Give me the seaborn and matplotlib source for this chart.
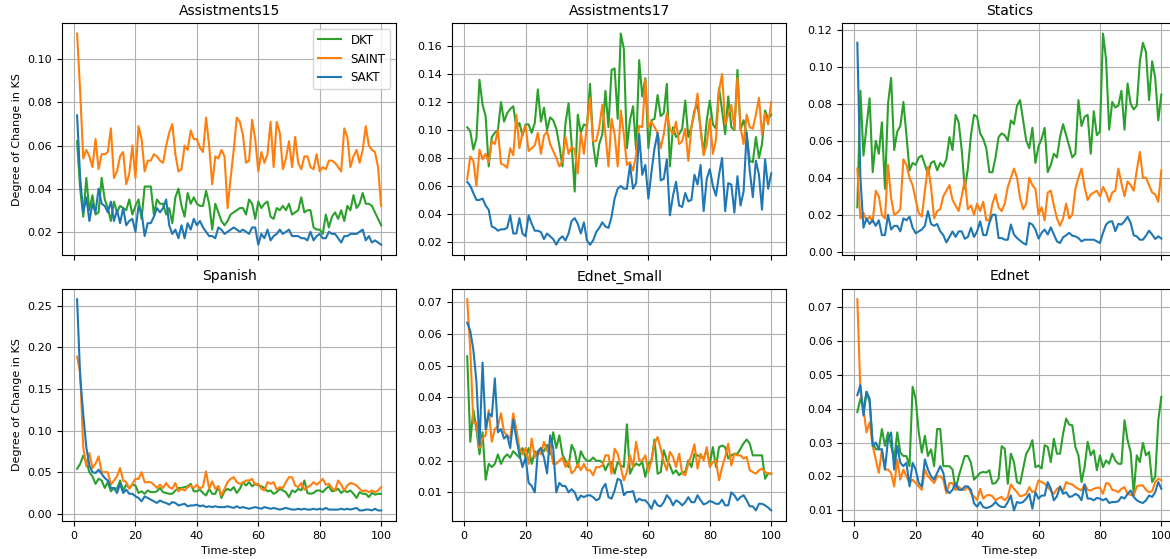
import numpy as np
import pandas as pd
import matplotlib
matplotlib.use("Agg")
import matplotlib.pyplot as plt
import seaborn as sns

steps = list(range(1, 101))
models = ["DKT", "SAINT", "SAKT"]
colors = {"DKT": "#2ca02c", "SAINT": "#ff7f0e", "SAKT": "#1f77b4"}
titles = ["Assistments15", "Assistments17", "Statics", "Spanish", "Ednet_Small", "Ednet"]

a15_dkt = [0.062, 0.040, 0.027, 0.045, 0.030, 0.037, 0.028, 0.029, 0.045, 0.035,
           0.031, 0.025, 0.034, 0.029, 0.032, 0.031, 0.030, 0.035, 0.028, 0.032,
           0.035, 0.026, 0.041, 0.041, 0.041, 0.028, 0.035, 0.033, 0.033, 0.028,
           0.031, 0.024, 0.036, 0.040, 0.032, 0.027, 0.038, 0.033, 0.036, 0.033,
           0.032, 0.032, 0.039, 0.033, 0.021, 0.033, 0.029, 0.025, 0.023, 0.025,
           0.028, 0.029, 0.030, 0.031, 0.031, 0.028, 0.035, 0.033, 0.026, 0.034,
           0.031, 0.033, 0.034, 0.027, 0.026, 0.031, 0.030, 0.032, 0.030, 0.033,
           0.028, 0.029, 0.030, 0.036, 0.029, 0.030, 0.030, 0.022, 0.021, 0.021,
           0.019, 0.028, 0.022, 0.027, 0.029, 0.026, 0.030, 0.025, 0.032, 0.030,
           0.037, 0.031, 0.033, 0.038, 0.033, 0.033, 0.032, 0.029, 0.026, 0.023]
a15_saint = [0.112, 0.085, 0.054, 0.058, 0.055, 0.050, 0.063, 0.049, 0.056, 0.056,
             0.057, 0.068, 0.045, 0.048, 0.055, 0.057, 0.042, 0.047, 0.060, 0.045,
             0.069, 0.063, 0.048, 0.053, 0.053, 0.056, 0.055, 0.053, 0.052, 0.060,
             0.066, 0.070, 0.056, 0.048, 0.049, 0.060, 0.058, 0.067, 0.063, 0.063,
             0.059, 0.057, 0.073, 0.060, 0.042, 0.055, 0.054, 0.058, 0.055, 0.031,
             0.045, 0.058, 0.073, 0.071, 0.065, 0.052, 0.053, 0.072, 0.063, 0.048,
             0.057, 0.052, 0.056, 0.071, 0.050, 0.071, 0.066, 0.049, 0.054, 0.062,
             0.050, 0.064, 0.052, 0.049, 0.055, 0.055, 0.050, 0.049, 0.056, 0.048,
             0.050, 0.049, 0.053, 0.053, 0.052, 0.050, 0.048, 0.068, 0.064, 0.050,
             0.055, 0.058, 0.052, 0.058, 0.069, 0.060, 0.058, 0.057, 0.050, 0.032]
a15_sakt = [0.074, 0.045, 0.029, 0.036, 0.025, 0.033, 0.029, 0.040, 0.033, 0.032,
            0.029, 0.034, 0.025, 0.030, 0.024, 0.031, 0.023, 0.025, 0.026, 0.020,
            0.032, 0.029, 0.018, 0.024, 0.024, 0.027, 0.031, 0.029, 0.031, 0.035,
            0.023, 0.019, 0.021, 0.017, 0.023, 0.017, 0.024, 0.021, 0.026, 0.023,
            0.025, 0.022, 0.020, 0.018, 0.018, 0.017, 0.022, 0.021, 0.019, 0.020,
            0.021, 0.022, 0.021, 0.020, 0.021, 0.020, 0.019, 0.022, 0.022, 0.014,
            0.019, 0.017, 0.021, 0.016, 0.018, 0.019, 0.021, 0.019, 0.020, 0.021,
            0.018, 0.018, 0.018, 0.017, 0.017, 0.016, 0.020, 0.016, 0.018, 0.019,
            0.017, 0.017, 0.020, 0.019, 0.019, 0.017, 0.015, 0.018, 0.018, 0.019,
            0.019, 0.019, 0.020, 0.021, 0.016, 0.018, 0.015, 0.016, 0.015, 0.014]

a17_dkt = [0.102, 0.099, 0.086, 0.094, 0.136, 0.118, 0.110, 0.074, 0.095, 0.098,
           0.100, 0.120, 0.106, 0.112, 0.115, 0.117, 0.102, 0.105, 0.096, 0.104,
           0.104, 0.098, 0.105, 0.129, 0.106, 0.116, 0.100, 0.109, 0.107, 0.101,
           0.089, 0.074, 0.105, 0.119, 0.090, 0.056, 0.111, 0.098, 0.104, 0.103,
           0.133, 0.090, 0.074, 0.090, 0.097, 0.128, 0.102, 0.143, 0.144, 0.108,
           0.169, 0.158, 0.087, 0.107, 0.117, 0.086, 0.150, 0.124, 0.137, 0.087,
           0.107, 0.108, 0.125, 0.110, 0.112, 0.133, 0.074, 0.102, 0.095, 0.097,
           0.101, 0.121, 0.095, 0.102, 0.114, 0.118, 0.101, 0.083, 0.107, 0.121,
           0.104, 0.101, 0.130, 0.114, 0.097, 0.124, 0.102, 0.100, 0.143, 0.100,
           0.107, 0.097, 0.078, 0.077, 0.095, 0.080, 0.090, 0.114, 0.108, 0.111]
a17_saint = [0.065, 0.081, 0.078, 0.060, 0.086, 0.079, 0.083, 0.077, 0.092, 0.090,
             0.100, 0.076, 0.075, 0.073, 0.087, 0.082, 0.111, 0.087, 0.098, 0.103,
             0.085, 0.087, 0.089, 0.098, 0.083, 0.096, 0.099, 0.090, 0.085, 0.080,
             0.074, 0.078, 0.095, 0.083, 0.088, 0.086, 0.069, 0.098, 0.083, 0.104,
             0.123, 0.092, 0.092, 0.102, 0.118, 0.097, 0.074, 0.108, 0.097, 0.074,
             0.114, 0.097, 0.075, 0.077, 0.071, 0.082, 0.103, 0.102, 0.136, 0.102,
             0.106, 0.102, 0.098, 0.087, 0.097, 0.112, 0.101, 0.097, 0.106, 0.090,
             0.092, 0.101, 0.078, 0.102, 0.112, 0.126, 0.100, 0.082, 0.090, 0.108,
             0.083, 0.093, 0.128, 0.140, 0.104, 0.111, 0.118, 0.101, 0.137, 0.102,
             0.090, 0.111, 0.102, 0.101, 0.111, 0.123, 0.097, 0.112, 0.104, 0.120]
a17_sakt = [0.063, 0.060, 0.055, 0.050, 0.050, 0.051, 0.046, 0.043, 0.031, 0.030,
            0.028, 0.029, 0.029, 0.030, 0.039, 0.026, 0.026, 0.037, 0.026, 0.024,
            0.039, 0.033, 0.028, 0.028, 0.027, 0.022, 0.026, 0.024, 0.022, 0.018,
            0.022, 0.024, 0.021, 0.026, 0.035, 0.037, 0.033, 0.026, 0.034, 0.021,
            0.018, 0.021, 0.027, 0.030, 0.034, 0.031, 0.030, 0.038, 0.051, 0.058,
            0.060, 0.058, 0.058, 0.075, 0.058, 0.062, 0.097, 0.068, 0.075, 0.051,
            0.070, 0.087, 0.098, 0.064, 0.065, 0.079, 0.039, 0.053, 0.063, 0.046,
            0.045, 0.055, 0.049, 0.050, 0.068, 0.061, 0.075, 0.042, 0.065, 0.072,
            0.060, 0.053, 0.068, 0.080, 0.042, 0.062, 0.061, 0.041, 0.067, 0.046,
            0.056, 0.098, 0.071, 0.052, 0.078, 0.068, 0.043, 0.079, 0.058, 0.069]

statics_dkt = [0.024, 0.087, 0.052, 0.068, 0.083, 0.043, 0.060, 0.053, 0.070, 0.034,
               0.080, 0.094, 0.055, 0.065, 0.068, 0.081, 0.063, 0.044, 0.048, 0.047,
               0.051, 0.052, 0.047, 0.042, 0.048, 0.049, 0.044, 0.048, 0.046, 0.050,
               0.062, 0.055, 0.074, 0.070, 0.055, 0.034, 0.045, 0.063, 0.074, 0.073,
               0.064, 0.061, 0.056, 0.043, 0.043, 0.051, 0.062, 0.064, 0.063, 0.060,
               0.071, 0.069, 0.079, 0.082, 0.071, 0.060, 0.056, 0.067, 0.048, 0.057,
               0.061, 0.067, 0.043, 0.047, 0.053, 0.051, 0.062, 0.069, 0.063, 0.057,
               0.051, 0.053, 0.082, 0.068, 0.073, 0.074, 0.053, 0.076, 0.063, 0.065,
               0.118, 0.104, 0.066, 0.081, 0.078, 0.079, 0.087, 0.066, 0.091, 0.080,
               0.077, 0.079, 0.103, 0.113, 0.108, 0.082, 0.103, 0.094, 0.071, 0.085]
statics_saint = [0.045, 0.018, 0.021, 0.017, 0.019, 0.016, 0.033, 0.030, 0.020, 0.018,
                 0.047, 0.029, 0.020, 0.021, 0.023, 0.050, 0.047, 0.040, 0.036, 0.028,
                 0.021, 0.019, 0.033, 0.046, 0.035, 0.018, 0.022, 0.023, 0.030, 0.033,
                 0.036, 0.028, 0.025, 0.022, 0.030, 0.039, 0.023, 0.025, 0.020, 0.026,
                 0.022, 0.027, 0.017, 0.017, 0.026, 0.031, 0.024, 0.022, 0.026, 0.035,
                 0.040, 0.045, 0.040, 0.029, 0.023, 0.026, 0.040, 0.036, 0.034, 0.020,
                 0.024, 0.017, 0.032, 0.033, 0.025, 0.018, 0.014, 0.018, 0.026, 0.018,
                 0.020, 0.034, 0.040, 0.045, 0.035, 0.028, 0.031, 0.032, 0.033, 0.030,
                 0.035, 0.032, 0.027, 0.032, 0.033, 0.045, 0.037, 0.030, 0.038, 0.036,
                 0.033, 0.044, 0.054, 0.040, 0.040, 0.036, 0.032, 0.031, 0.027, 0.044]
statics_sakt = [0.113, 0.040, 0.013, 0.018, 0.015, 0.017, 0.014, 0.017, 0.009, 0.009,
                0.020, 0.012, 0.014, 0.014, 0.011, 0.018, 0.017, 0.019, 0.013, 0.010,
                0.011, 0.012, 0.014, 0.022, 0.015, 0.014, 0.015, 0.011, 0.009, 0.005,
                0.008, 0.011, 0.008, 0.011, 0.011, 0.007, 0.008, 0.013, 0.008, 0.011,
                0.0165, 0.009, 0.009, 0.0156, 0.020, 0.020, 0.0074, 0.0074, 0.0065, 0.0065,
                0.0147, 0.0093, 0.0074, 0.006, 0.0047, 0.0038, 0.0156, 0.0147, 0.012, 0.0071,
                0.0102, 0.012, 0.0093, 0.0132, 0.0093, 0.0056, 0.0047, 0.0078, 0.0089, 0.0102,
                0.0087, 0.0083, 0.0074, 0.0056, 0.0065, 0.0065, 0.0065, 0.0065, 0.0056, 0.0047,
                0.0102, 0.0147, 0.0162, 0.0165, 0.0111, 0.0151, 0.0147, 0.0165, 0.0189, 0.0156,
                0.0089, 0.0083, 0.0065, 0.0065, 0.0087, 0.0114, 0.0093, 0.0069, 0.0083, 0.0071]

spanish_dkt = [0.054, 0.060, 0.070, 0.063, 0.050, 0.045, 0.036, 0.042, 0.040, 0.031,
               0.038, 0.027, 0.031, 0.030, 0.040, 0.028, 0.035, 0.031, 0.035, 0.034,
               0.025, 0.027, 0.024, 0.028, 0.026, 0.026, 0.027, 0.031, 0.026, 0.025,
               0.024, 0.024, 0.028, 0.031, 0.031, 0.032, 0.033, 0.036, 0.027, 0.027,
               0.029, 0.025, 0.022, 0.030, 0.024, 0.024, 0.033, 0.019, 0.027, 0.030,
               0.028, 0.032, 0.025, 0.030, 0.038, 0.034, 0.038, 0.033, 0.036, 0.034,
               0.033, 0.031, 0.027, 0.028, 0.024, 0.026, 0.030, 0.028, 0.026, 0.020,
               0.028, 0.026, 0.030, 0.028, 0.040, 0.025, 0.024, 0.025, 0.028, 0.028,
               0.026, 0.030, 0.033, 0.027, 0.028, 0.030, 0.025, 0.028, 0.026, 0.028,
               0.024, 0.019, 0.026, 0.024, 0.024, 0.020, 0.025, 0.023, 0.024, 0.024]
spanish_saint = [0.189, 0.170, 0.080, 0.057, 0.073, 0.055, 0.060, 0.069, 0.050, 0.050,
                 0.050, 0.035, 0.040, 0.045, 0.055, 0.040, 0.038, 0.030, 0.036, 0.042,
                 0.042, 0.050, 0.038, 0.038, 0.038, 0.035, 0.031, 0.035, 0.031, 0.037,
                 0.032, 0.030, 0.037, 0.027, 0.030, 0.028, 0.032, 0.034, 0.031, 0.035,
                 0.030, 0.033, 0.051, 0.030, 0.039, 0.030, 0.033, 0.022, 0.030, 0.038,
                 0.042, 0.044, 0.038, 0.036, 0.037, 0.040, 0.040, 0.042, 0.035, 0.036,
                 0.030, 0.028, 0.038, 0.036, 0.038, 0.029, 0.032, 0.031, 0.038, 0.044,
                 0.044, 0.034, 0.032, 0.037, 0.029, 0.032, 0.034, 0.038, 0.035, 0.038,
                 0.042, 0.035, 0.036, 0.031, 0.028, 0.040, 0.035, 0.028, 0.034, 0.037,
                 0.036, 0.034, 0.030, 0.027, 0.028, 0.026, 0.028, 0.026, 0.028, 0.032]
spanish_sakt = [0.258, 0.165, 0.120, 0.080, 0.058, 0.050, 0.049, 0.053, 0.048, 0.043,
                0.040, 0.031, 0.031, 0.025, 0.036, 0.025, 0.029, 0.024, 0.024, 0.021,
                0.019, 0.015, 0.021, 0.019, 0.017, 0.015, 0.013, 0.016, 0.014, 0.013,
                0.011, 0.014, 0.013, 0.010, 0.011, 0.012, 0.009, 0.010, 0.010, 0.011,
                0.009, 0.010, 0.008, 0.009, 0.008, 0.009, 0.008, 0.008, 0.008, 0.009,
                0.008, 0.007, 0.009, 0.007, 0.008, 0.007, 0.006, 0.007, 0.008, 0.007,
                0.006, 0.008, 0.007, 0.006, 0.007, 0.006, 0.005, 0.006, 0.007, 0.006,
                0.005, 0.005, 0.006, 0.005, 0.006, 0.005, 0.005, 0.006, 0.005, 0.006,
                0.005, 0.007, 0.005, 0.005, 0.005, 0.005, 0.006, 0.005, 0.006, 0.005,
                0.006, 0.007, 0.004, 0.004, 0.005, 0.005, 0.004, 0.006, 0.004, 0.004]

esmall_dkt = [0.053, 0.026, 0.036, 0.030, 0.022, 0.029, 0.014, 0.019, 0.018, 0.019,
              0.022, 0.019, 0.021, 0.022, 0.021, 0.023, 0.022, 0.021, 0.024, 0.021,
              0.024, 0.019, 0.023, 0.022, 0.024, 0.023, 0.025, 0.022, 0.029, 0.024,
              0.028, 0.022, 0.020, 0.018, 0.025, 0.023, 0.018, 0.023, 0.021, 0.020,
              0.020, 0.021, 0.020, 0.020, 0.0196, 0.017, 0.0191, 0.0196, 0.0159, 0.0196,
              0.0185, 0.018, 0.0315, 0.0159, 0.018, 0.0191, 0.0185, 0.0196, 0.0149, 0.0191,
              0.0201, 0.0267, 0.0159, 0.0164, 0.0233, 0.0201, 0.0185, 0.0159, 0.017, 0.0154,
              0.0164, 0.0164, 0.0201, 0.018, 0.0222, 0.0217, 0.0212, 0.0207, 0.0233, 0.0191,
              0.0243, 0.018, 0.0243, 0.0248, 0.0243, 0.0207, 0.0217, 0.0222, 0.0222, 0.0238,
              0.0255, 0.0267, 0.0254, 0.0217, 0.0217, 0.0217, 0.0217, 0.0143, 0.016, 0.0159]
esmall_saint = [0.071, 0.055, 0.032, 0.032, 0.024, 0.027, 0.028, 0.036, 0.026, 0.030,
                0.031, 0.035, 0.029, 0.028, 0.027, 0.035, 0.030, 0.024, 0.022, 0.024,
                0.019, 0.027, 0.021, 0.023, 0.022, 0.026, 0.023, 0.025, 0.019, 0.019,
                0.020, 0.021, 0.018, 0.020, 0.016, 0.017, 0.019, 0.017, 0.019, 0.017,
                0.017, 0.0154, 0.018, 0.018, 0.0185, 0.0217, 0.0217, 0.0159, 0.0238, 0.0222,
                0.018, 0.0138, 0.0164, 0.0217, 0.018, 0.026, 0.0201, 0.0201, 0.0217, 0.0164,
                0.0201, 0.0254, 0.0275, 0.0238, 0.0196, 0.017, 0.0228, 0.0212, 0.018, 0.0222,
                0.0159, 0.0154, 0.0191, 0.0217, 0.0252, 0.0175, 0.0222, 0.0201, 0.0243, 0.018,
                0.0196, 0.0201, 0.0138, 0.018, 0.0212, 0.0254, 0.0185, 0.0222, 0.0217, 0.0217,
                0.0207, 0.0212, 0.017, 0.0164, 0.0159, 0.017, 0.0175, 0.0164, 0.016, 0.016]
esmall_sakt = [0.0636, 0.061, 0.055, 0.045, 0.025, 0.051, 0.030, 0.035, 0.034, 0.046,
               0.029, 0.030, 0.027, 0.028, 0.024, 0.033, 0.027, 0.022, 0.018, 0.021,
               0.013, 0.012, 0.010, 0.023, 0.024, 0.021, 0.016, 0.028, 0.024, 0.010,
               0.013, 0.012, 0.012, 0.010, 0.011, 0.010, 0.0075, 0.009, 0.0085, 0.009,
               0.0091, 0.0085, 0.0075, 0.008, 0.0112, 0.0127, 0.0085, 0.008, 0.0106, 0.0143,
               0.0138, 0.0091, 0.0101, 0.0101, 0.0104, 0.0069, 0.008, 0.0075, 0.0075, 0.0064,
               0.0048, 0.0075, 0.0059, 0.0056, 0.0069, 0.0091, 0.008, 0.0059, 0.0075, 0.0069,
               0.0059, 0.0069, 0.0085, 0.0069, 0.0069, 0.0091, 0.0075, 0.0062, 0.0066, 0.0073,
               0.0069, 0.0064, 0.0064, 0.0077, 0.0059, 0.0059, 0.010, 0.0091, 0.0075, 0.0085,
               0.0091, 0.0075, 0.0056, 0.0056, 0.0043, 0.0064, 0.0064, 0.0059, 0.0052, 0.0043]

ednet_dkt = [0.039, 0.043, 0.040, 0.045, 0.042, 0.030, 0.028, 0.028, 0.034, 0.029,
             0.033, 0.029, 0.025, 0.033, 0.027, 0.026, 0.026, 0.023, 0.0465, 0.043,
             0.033, 0.027, 0.032, 0.026, 0.028, 0.023, 0.034, 0.034, 0.023, 0.023,
             0.023, 0.022, 0.016, 0.020, 0.023, 0.026, 0.026, 0.024, 0.019, 0.020,
             0.021, 0.0213, 0.0211, 0.0218, 0.0178, 0.018, 0.0193, 0.0289, 0.0282, 0.0178,
             0.0267, 0.0242, 0.0183, 0.0178, 0.0223, 0.0267, 0.0282, 0.0307, 0.0227, 0.0232,
             0.0223, 0.0292, 0.0287, 0.0242, 0.0311, 0.0267, 0.0267, 0.0326, 0.0371, 0.0353,
             0.0351, 0.0287, 0.0262, 0.0183, 0.0227, 0.0302, 0.0262, 0.0277, 0.0218, 0.0262,
             0.0227, 0.0247, 0.0237, 0.0267, 0.0247, 0.0237, 0.0237, 0.0366, 0.0307, 0.0272,
             0.0148, 0.0262, 0.0242, 0.0299, 0.0262, 0.0272, 0.0183, 0.0198, 0.0366, 0.0435]
ednet_saint = [0.0724, 0.045, 0.040, 0.033, 0.036, 0.029, 0.025, 0.021, 0.028, 0.022,
               0.022, 0.021, 0.017, 0.025, 0.019, 0.022, 0.020, 0.018, 0.019, 0.018,
               0.017, 0.016, 0.022, 0.020, 0.019, 0.018, 0.020, 0.020, 0.019, 0.015,
               0.018, 0.018, 0.016, 0.017, 0.016, 0.016, 0.017, 0.015, 0.014, 0.013,
               0.0163, 0.0134, 0.0143, 0.0145, 0.0141, 0.0129, 0.0135, 0.0139, 0.0129, 0.0139,
               0.0176, 0.0163, 0.0153, 0.0141, 0.0143, 0.0148, 0.0168, 0.0153, 0.0158, 0.0188,
               0.0183, 0.0178, 0.0168, 0.0158, 0.0148, 0.0163, 0.0168, 0.0156, 0.0183, 0.0178,
               0.0176, 0.0168, 0.0163, 0.0158, 0.0176, 0.016, 0.0158, 0.0163, 0.0166, 0.0166,
               0.0148, 0.018, 0.0178, 0.016, 0.0158, 0.0153, 0.0163, 0.0168, 0.0148, 0.0145,
               0.0143, 0.017, 0.0173, 0.0173, 0.016, 0.0153, 0.0156, 0.0183, 0.0193, 0.0188]
ednet_sakt = [0.044, 0.047, 0.038, 0.045, 0.043, 0.029, 0.030, 0.028, 0.028, 0.022,
              0.031, 0.033, 0.022, 0.029, 0.024, 0.023, 0.024, 0.017, 0.024, 0.022,
              0.018, 0.017, 0.025, 0.022, 0.020, 0.019, 0.021, 0.023, 0.021, 0.016,
              0.015, 0.016, 0.018, 0.016, 0.016, 0.017, 0.017, 0.016, 0.012, 0.011,
              0.0124, 0.0109, 0.0106, 0.0109, 0.0114, 0.0124, 0.0114, 0.0109, 0.0109, 0.0124,
              0.0143, 0.0099, 0.0124, 0.0121, 0.0124, 0.0134, 0.0148, 0.0104, 0.0153, 0.0134,
              0.0143, 0.0143, 0.0183, 0.0163, 0.0129, 0.0141, 0.017, 0.0148, 0.0153, 0.0139,
              0.0141, 0.0148, 0.0143, 0.0129, 0.0176, 0.0134, 0.0134, 0.0129, 0.0136, 0.0134,
              0.0129, 0.0134, 0.0121, 0.0124, 0.0124, 0.0126, 0.0139, 0.0134, 0.0148, 0.0158,
              0.0139, 0.0129, 0.0124, 0.0121, 0.0129, 0.0143, 0.0139, 0.0153, 0.0183, 0.0163]

panels = [
    (a15_dkt, a15_saint, a15_sakt),
    (a17_dkt, a17_saint, a17_sakt),
    (statics_dkt, statics_saint, statics_sakt),
    (spanish_dkt, spanish_saint, spanish_sakt),
    (esmall_dkt, esmall_saint, esmall_sakt),
    (ednet_dkt, ednet_saint, ednet_sakt),
]

plt.rcParams.update({
    "font.family": ["DejaVu Sans"],
    "axes.grid": True,
    "grid.color": "#b0b0b0",
    "grid.linewidth": 0.8,
    "axes.edgecolor": "black",
    "axes.linewidth": 0.8,
    "xtick.labelsize": 8,
    "ytick.labelsize": 8,
})

fig, axes = plt.subplots(
    2, 3, figsize=(11.7, 5.59), dpi=100, sharex=True,
    gridspec_kw=dict(left=0.0529, right=1.0056, bottom=0.068, top=0.9589,
                     wspace=0.1665, hspace=0.144),
)

for i, (ax, title, series) in enumerate(zip(axes.flat, titles, panels)):
    frames = []
    for m, vals in zip(models, series):
        frames.append(pd.DataFrame({"Time-step": steps, "value": vals, "model": m}))
    df = pd.concat(frames, ignore_index=True)
    sns.lineplot(data=df, x="Time-step", y="value", hue="model", hue_order=models,
                 palette=colors, linewidth=1.5, ax=ax, legend=(i == 0))
    ax.set_title(title, fontsize=10)
    ax.set_xticks([0, 20, 40, 60, 80, 100])
    ax.tick_params(direction="out", length=3.5, width=0.8)
    ax.grid(True, color="#b0b0b0", linewidth=0.8)
    if i % 3 == 0:
        ax.set_ylabel("Degree of Change in KS", fontsize=8)
    else:
        ax.set_ylabel("")
    if i >= 3:
        ax.set_xlabel("Time-step", fontsize=8)
    else:
        ax.set_xlabel("")
    if i == 0:
        handles, labels = ax.get_legend_handles_labels()
        ax.legend(handles, labels, loc="upper right", fontsize=8.5)

fig.savefig("out.png", dpi=100)
